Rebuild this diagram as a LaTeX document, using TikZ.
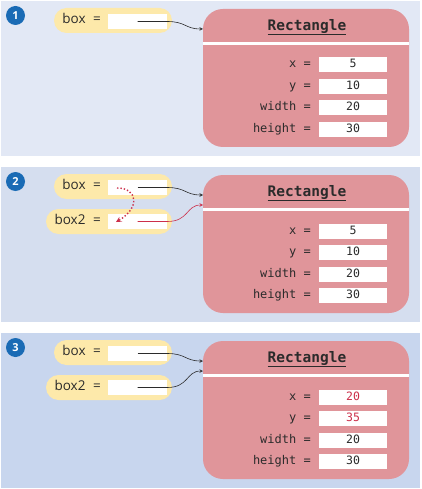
\documentclass[tikz,border=0pt]{standalone}
\usepackage{fontspec}
\setsansfont{Open Sans}
\setmonofont{DejaVu Sans Mono}
\usetikzlibrary{calc}

\definecolor{paneone}{HTML}{E2E8F5}
\definecolor{panetwo}{HTML}{D5DEEF}
\definecolor{panethree}{HTML}{C8D6EE}
\definecolor{objpink}{HTML}{E0959A}
\definecolor{pillyellow}{HTML}{FDE9AA}
\definecolor{badgeblue}{HTML}{1A6BB5}
\definecolor{refred}{HTML}{CC2F4A}
\definecolor{inkdark}{HTML}{2B2B2B}

\tikzset{
  pill/.style={fill=pillyellow, rounded corners=12.5pt, minimum height=25pt, inner sep=0pt},
  slot/.style={fill=white, minimum width=59pt, minimum height=15pt, inner sep=0pt},
  varname/.style={font=\sffamily\fontsize{13.5}{13.5}\selectfont, text=inkdark, inner sep=0pt, text height=9.5pt, text depth=3pt},
  object/.style={fill=objpink, rounded corners=20pt, minimum width=206pt, minimum height=138pt, inner sep=0pt},
  field/.style={fill=white, minimum width=68pt, minimum height=15pt, inner sep=0pt, text height=8.5pt, text depth=2.5pt, font=\ttfamily\fontsize{11.5}{11.5}\selectfont},
  fieldname/.style={anchor=east, inner sep=0pt, text=inkdark, text height=8.5pt, text depth=2.5pt, font=\ttfamily\fontsize{12}{12}\selectfont},
  badge/.style={circle, fill=badgeblue, minimum size=19pt, inner sep=0pt, text=white, font=\sffamily\bfseries\fontsize{11}{11}\selectfont},
  ref/.style={->, draw=inkdark, line width=0.6pt},
  thickref/.style={draw=inkdark, line width=1.4pt}
}

\begin{document}
\begin{tikzpicture}[x=1pt, y=-1pt, >=stealth]
\useasboundingbox (0,0) rectangle (421,489);

% the three panels, each with the Rectangle object and the box variable
\foreach \p/\off/\bg/\vx/\vy/\vcol in {1/0/paneone/5/10/inkdark, 2/166/panetwo/5/10/inkdark, 3/332/panethree/20/35/refred}{
  \begin{scope}[shift={(0,\off)}]
    \fill[\bg] (1,1) rectangle (420,156);
    \node[badge] (num\p) at (15.5,15.5) {\p};
    % object
    \node[object] (obj\p) at (306,78) {};
    \draw[white, line width=3pt] ($(obj\p.north west)+(0,35)$) -- ($(obj\p.north east)+(0,35)$);
    \node[text=inkdark, font=\ttfamily\bfseries\fontsize{14.5}{14.5}\selectfont] (title\p) at (307,27) {\underline{Rectangle}};
    \node[field, text=\vcol] (fx\p) at (353,65) {\vx};
    \node[field, text=\vcol] (fy\p) at (353,86.5) {\vy};
    \node[field, text=inkdark] (fw\p) at (353,108) {20};
    \node[field, text=inkdark] (fh\p) at (353,129.5) {30};
    \node[fieldname] at (311,65) {x =};
    \node[fieldname] at (311,86.5) {y =};
    \node[fieldname] at (311,108) {width =};
    \node[fieldname] at (311,129.5) {height =};
    \coordinate (inone\p) at (203,29);
    \coordinate (intwo\p) at (203,39);
    % box variable
    \node[pill, minimum width=118pt] (boxpill\p) at (113,20.5) {};
    \node[varname] at (74,20.5) {box};
    \node[varname] at (97,20.5) {=};
    \node[slot] (boxslot\p) at (137.5,21.5) {};
  \end{scope}
}

% panel 1
\draw[ref] (boxslot1.center) -- (boxslot1.east) .. controls (186,21.5) and (185,29) .. (inone1);

% panel 2
\begin{scope}[shift={(0,166)}]
  \node[pill, minimum width=126pt] (twopill2) at (109,55.5) {};
  \node[varname] at (70,55.5) {box2};
  \node[varname] at (97,55.5) {=};
  \node[slot] (twoslot2) at (137.5,55.5) {};
  \coordinate (dotstart) at (117,22);
  \coordinate (dotend) at (116,56);
\end{scope}
\draw[thickref] (boxslot2.center) -- (boxslot2.east);
\draw[ref] (boxslot2.east) .. controls (186,187.5) and (185,195) .. (inone2);
\draw[->, draw=refred, line width=0.6pt] (twoslot2.center) -- (twoslot2.east) .. controls (189,221.5) and (186,205) .. (intwo2);
\draw[->, draw=refred, line width=1.4pt, dotted] (dotstart) .. controls (138,188) and (140,208) .. (dotend);

% panel 3
\begin{scope}[shift={(0,332)}]
  \node[pill, minimum width=126pt] (twopill3) at (109,55.5) {};
  \node[varname] at (70,55.5) {box2};
  \node[varname] at (97,55.5) {=};
  \node[slot] (twoslot3) at (137.5,55.5) {};
\end{scope}
\draw[thickref] (boxslot3.center) -- (boxslot3.east);
\draw[ref] (boxslot3.east) .. controls (186,353.5) and (185,361) .. (inone3);
\draw[ref] (twoslot3.center) -- (twoslot3.east) .. controls (189,387.5) and (186,371) .. (intwo3);

\end{tikzpicture}
\end{document}
